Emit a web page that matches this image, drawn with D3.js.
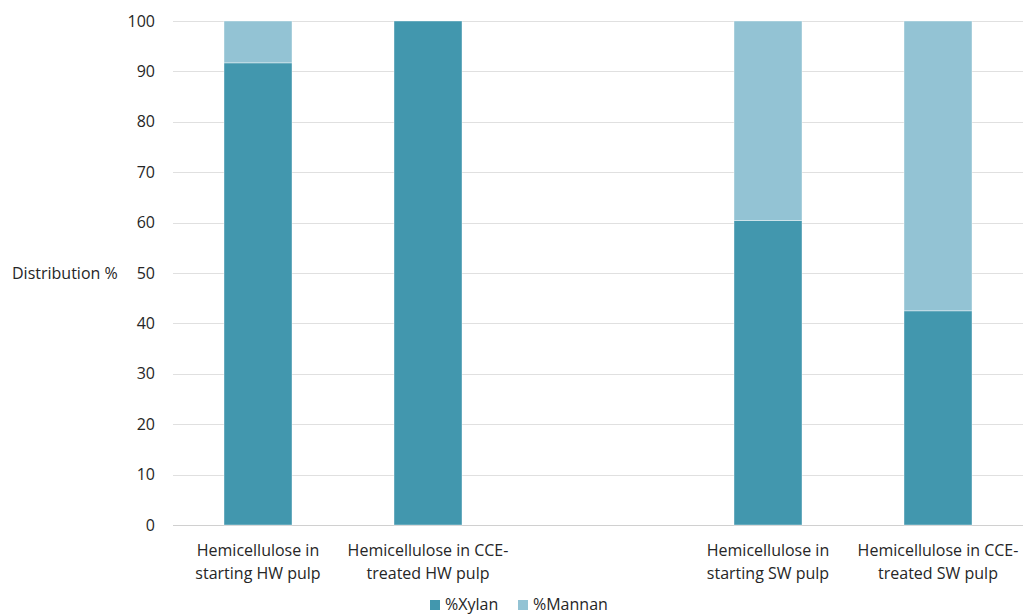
<!DOCTYPE html>
<html><head><meta charset="utf-8">
<script src="https://cdn.jsdelivr.net/npm/d3@7"></script>
<style>
body{margin:0;background:#fff;}
text{font-family:"Open Sans",sans-serif;fill:#262626;}
</style></head>
<body><svg id="c" width="1023" height="616"></svg>
<script>
const categories = [
  ["Hemicellulose in","starting HW pulp"],
  ["Hemicellulose in CCE-","treated HW pulp"],
  null,
  ["Hemicellulose in","starting SW pulp"],
  ["Hemicellulose in CCE-","treated SW pulp"]
];
const catKeys = ["hwStart","hwCCE","gap","swStart","swCCE"];
const xylan  = [91.7, 100, null, 60.4, 42.5];
const mannan = [8.3, 0, null, 39.6, 57.5];
const yTicks = [0,10,20,30,40,50,60,70,80,90,100];
const seriesNames = ["%Xylan","%Mannan"];
const colors = ["#4297AE","#93C3D4"];

const svg = d3.select("#c");
const x = d3.scaleBand().domain(catKeys).range([173,1023]).paddingInner(0.6).paddingOuter(0.3);
const y = d3.scaleLinear().domain([0,100]).range([525,21]);

// gridlines
svg.append("g").selectAll("line").data(yTicks).join("line")
  .attr("x1",173).attr("x2",1023)
  .attr("y1",d=>Math.round(y(d))+0.5).attr("y2",d=>Math.round(y(d))+0.5)
  .attr("stroke",d=>d===0?"#d0d0d0":"#e0e0e0").attr("stroke-width",1);

// y tick labels
svg.append("g").selectAll("text").data(yTicks).join("text")
  .attr("x",155).attr("y",d=>y(d)).attr("dy","0.35em")
  .attr("text-anchor","end").style("font-size","16px").text(d=>d);

// y title
svg.append("text").attr("x",12).attr("y",y(50)).attr("dy","0.35em")
  .style("font-size","16px").text("Distribution %");

// bars
const stackData = catKeys.map((k,i)=>({k, xylan:xylan[i], mannan:mannan[i]})).filter(d=>d.xylan!==null);
const stack = d3.stack().keys(["xylan","mannan"])(stackData);
svg.append("g").selectAll("g").data(stack).join("g")
  .attr("fill",(d,i)=>colors[i])
  .selectAll("rect").data(d=>d.filter(s=>s[1]-s[0]>0)).join("rect")
  .attr("x",d=>x(d.data.k)).attr("width",x.bandwidth())
  .attr("y",d=>y(d[1])).attr("height",d=>y(d[0])-y(d[1]))
  .attr("stroke","#ffffff").attr("stroke-opacity",0.5).attr("stroke-width",0.8);

// x labels
const lab = svg.append("g");
catKeys.forEach((k,i)=>{
  if(!categories[i]) return;
  const t = lab.append("text").attr("text-anchor","middle").style("font-size","16px")
    .attr("x",x(k)+x.bandwidth()/2).attr("y",556);
  categories[i].forEach((line,j)=>{
    t.append("tspan").attr("x",x(k)+x.bandwidth()/2).attr("dy",j===0?0:23).text(line);
  });
});

// legend
const leg = svg.append("g");
const legX = [430,518];
seriesNames.forEach((n,i)=>{
  leg.append("rect").attr("x",legX[i]).attr("y",600).attr("width",10).attr("height",10).attr("fill",colors[i]);
  leg.append("text").attr("x",legX[i]+15).attr("y",604).attr("dy","0.35em").style("font-size","16px").text(n);
});
</script></body></html>
